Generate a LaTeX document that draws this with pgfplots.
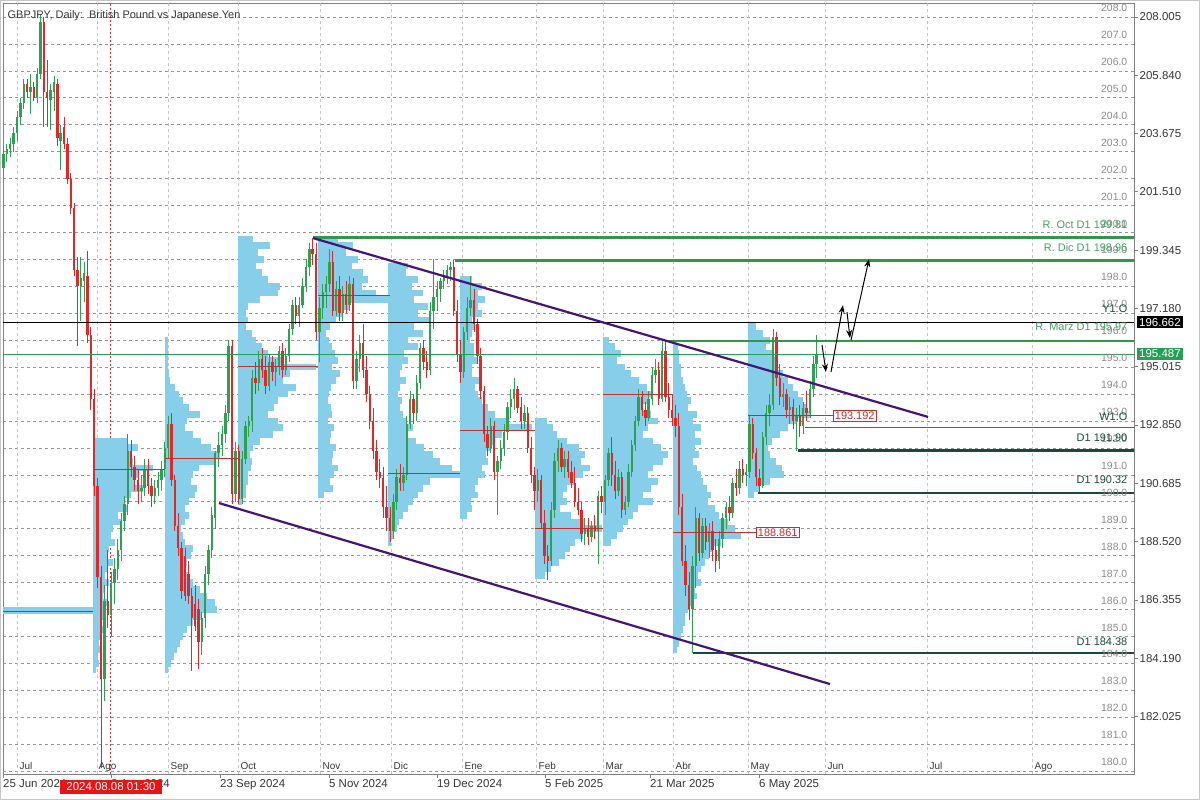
\documentclass[border=0pt]{standalone}
\usepackage{fontspec}
\setmainfont{Liberation Sans}
\usepackage{pgfplots}
\usepackage{pgfplotstable}
\pgfplotsset{compat=1.18}
\usetikzlibrary{arrows.meta}

\definecolor{cup}{RGB}{46,160,80}
\definecolor{cdn}{RGB}{225,40,40}
\definecolor{vp}{RGB}{135,206,235}
\definecolor{poc}{RGB}{200,45,45}
\definecolor{rgreen}{RGB}{50,150,75}
\definecolor{rtext}{RGB}{70,160,100}
\definecolor{dteal}{RGB}{30,72,62}
\definecolor{tpurple}{RGB}{70,20,120}
\definecolor{gridc}{RGB}{150,150,150}
\definecolor{vgridc}{RGB}{195,195,195}
\definecolor{lblgrey}{RGB}{140,140,140}
\definecolor{axtext}{RGB}{55,55,55}
\definecolor{boxgreen}{RGB}{38,160,85}
\definecolor{wteal}{RGB}{70,105,105}

% candles: index, open, high, low, close
\pgfplotstableread{
i o h l c
0 202.40 203.10 202.20 202.90
1 202.90 203.30 202.60 203.10
2 203.10 203.50 202.80 203.30
3 203.30 203.90 203.00 203.70
4 203.70 204.50 203.40 204.30
5 204.30 205.00 204.00 204.80
6 204.80 205.70 204.60 205.50
7 205.50 205.70 205.00 205.20
8 205.20 205.90 204.40 205.40
9 205.40 205.60 204.90 205.00
10 205.00 206.10 204.80 205.90
11 205.90 208.10 205.70 207.80
12 207.80 208.00 203.90 205.20
13 205.20 206.40 203.90 205.00
14 204.90 205.50 203.80 205.30
15 205.20 205.80 204.50 205.60
16 205.50 205.70 203.20 203.50
17 203.40 204.00 202.30 203.70
18 203.90 204.30 203.10 203.30
19 203.30 203.50 201.80 202.00
20 202.00 202.20 200.70 200.90
21 200.90 201.10 198.40 198.60
22 198.60 199.10 195.80 198.00
23 198.00 199.10 196.70 198.30
24 198.20 198.90 197.40 198.50
25 198.40 199.30 195.90 196.20
26 196.20 196.50 193.40 193.80
27 193.80 194.20 190.20 190.60
28 190.60 190.90 186.80 187.20
29 187.20 187.60 180.10 183.40
30 183.40 186.90 182.60 186.30
31 186.30 188.20 185.30 185.80
32 185.80 187.40 185.00 187.00
33 187.00 187.90 186.20 187.50
34 187.50 188.60 187.10 188.20
35 188.20 189.60 187.80 189.30
36 189.30 190.20 188.90 189.90
37 189.90 192.50 189.50 191.90
38 191.90 192.30 190.90 191.30
39 191.30 191.70 190.40 190.80
40 190.80 191.20 189.90 190.40
41 190.40 191.00 190.00 190.50
42 190.50 191.60 190.20 191.20
43 191.20 191.60 190.30 190.60
44 190.60 190.90 189.80 190.20
45 190.20 190.80 189.90 190.50
46 190.50 191.10 190.20 190.80
47 190.80 191.50 190.40 191.20
48 191.20 192.20 190.90 192.00
49 192.00 193.20 191.60 192.90
50 192.90 193.30 190.60 190.80
51 190.80 191.00 188.90 189.10
52 189.10 189.60 188.00 188.30
53 188.30 188.50 186.40 186.70
54 188.00 188.30 186.30 186.50
55 187.30 187.80 186.20 186.50
56 186.50 186.80 183.70 185.70
57 186.20 186.90 185.20 185.40
58 186.00 186.40 183.80 184.80
59 184.80 185.90 184.30 185.70
60 185.70 187.60 185.30 187.30
61 187.30 188.40 186.90 188.20
62 188.20 189.80 187.90 189.50
63 189.40 191.90 189.00 191.80
64 191.80 192.60 191.30 192.10
65 192.10 192.80 191.70 192.50
66 192.50 193.60 192.20 193.30
67 193.30 196.00 193.00 195.80
68 195.80 196.00 189.90 190.30
69 190.30 192.20 190.00 191.90
70 191.90 192.10 189.90 190.10
71 190.10 191.90 189.90 191.60
72 191.60 193.00 191.40 192.80
73 192.80 193.20 192.40 193.00
74 193.00 194.90 192.60 194.60
75 194.60 195.20 194.00 194.40
76 194.40 195.60 194.10 195.30
77 195.30 195.70 194.60 194.90
78 194.90 195.40 194.00 194.30
79 194.30 195.50 194.10 195.20
80 195.20 195.40 194.50 194.80
81 194.80 195.30 194.30 195.00
82 195.00 195.80 194.70 195.60
83 195.60 195.90 194.60 194.90
84 194.90 195.70 194.70 195.40
85 195.40 196.60 195.20 196.40
86 196.40 197.50 196.20 197.30
87 197.30 197.60 196.60 196.90
88 196.90 197.60 196.50 197.30
89 197.30 198.30 197.20 198.00
90 198.00 199.00 197.80 198.70
91 198.70 199.60 198.40 199.40
92 199.40 199.81 198.80 199.20
93 199.20 199.60 196.00 196.30
94 196.30 197.60 195.20 197.20
95 197.20 198.10 196.80 197.80
96 197.80 198.40 197.20 198.10
97 198.10 199.40 197.80 198.90
98 198.90 199.30 196.90 197.10
99 197.10 198.20 196.90 197.90
100 197.90 198.40 196.70 197.00
101 197.00 198.00 196.70 197.70
102 197.70 198.20 197.00 197.30
103 197.30 198.40 197.10 198.10
104 198.10 198.30 194.20 194.50
105 194.50 195.60 194.20 195.30
106 195.30 196.20 194.80 195.90
107 195.90 196.60 194.60 194.90
108 194.90 195.40 193.70 194.00
109 194.00 194.30 192.70 193.00
110 193.00 193.50 191.60 191.90
111 191.90 192.30 190.80 191.10
112 191.10 191.60 190.50 190.90
113 190.90 191.30 189.40 189.80
114 189.80 190.60 188.90 189.40
115 189.40 189.80 188.50 188.90
116 188.90 190.30 188.60 190.00
117 190.00 191.20 189.70 190.90
118 190.90 191.40 190.40 190.70
119 190.70 191.30 190.40 191.00
120 191.00 193.20 190.80 192.90
121 192.90 194.10 192.70 193.80
122 193.80 194.00 192.90 193.30
123 193.30 194.70 193.00 194.40
124 194.40 195.90 194.20 195.70
125 195.70 196.00 194.90 195.20
126 195.20 195.60 194.60 194.90
127 194.90 197.40 194.70 197.10
128 197.10 199.00 196.40 197.60
129 197.60 198.20 197.10 197.90
130 197.90 198.30 197.40 198.20
131 198.20 198.60 197.90 198.40
132 198.40 198.80 198.10 198.60
133 198.60 198.90 198.20 198.70
134 198.70 198.96 196.90 197.10
135 197.10 197.50 195.20 195.50
136 195.50 196.00 194.40 194.80
137 194.80 196.50 194.60 196.30
138 196.30 197.60 196.00 197.20
139 197.20 198.40 196.90 197.50
140 197.50 197.90 196.30 196.60
141 196.60 196.80 195.10 195.40
142 195.40 195.70 193.80 194.10
143 194.10 194.30 192.20 192.50
144 192.50 192.80 191.70 192.00
145 192.00 193.10 191.80 192.80
146 192.80 193.00 190.80 191.10
147 191.10 191.70 189.50 191.50
148 191.50 192.30 191.20 192.00
149 192.00 192.90 191.70 192.60
150 192.60 193.70 192.30 193.50
151 193.50 194.20 193.10 193.80
152 193.80 194.60 193.40 194.20
153 194.20 194.30 193.30 193.50
154 193.50 193.90 192.70 193.00
155 193.00 193.60 192.70 193.30
156 193.30 193.50 191.80 192.00
157 192.00 192.40 190.70 191.00
158 191.00 191.30 189.70 190.40
159 190.40 191.20 190.00 190.80
160 190.80 191.00 189.00 189.20
161 189.20 189.70 187.70 188.00
162 188.00 188.40 187.10 187.80
163 187.80 190.00 187.60 189.70
164 189.70 191.80 189.40 191.50
165 191.50 192.30 191.10 192.00
166 192.00 192.20 191.10 191.30
167 191.30 191.90 190.90 191.60
168 191.60 191.90 190.90 191.10
169 191.10 191.50 190.50 190.70
170 190.70 191.30 189.80 190.00
171 190.00 190.50 189.50 189.70
172 189.70 190.00 188.50 188.80
173 188.80 189.40 188.40 189.00
174 189.00 189.40 188.40 188.70
175 188.70 189.30 188.50 189.10
176 189.10 189.50 188.60 188.90
177 188.90 190.40 187.70 190.20
178 190.20 190.60 189.60 190.00
179 190.00 191.00 189.50 190.80
180 190.80 192.00 190.60 191.80
181 191.80 192.40 190.60 191.00
182 191.00 191.50 190.10 190.40
183 190.40 191.20 190.20 190.90
184 190.90 191.10 189.40 189.70
185 189.70 190.20 189.50 190.00
186 190.00 191.40 189.80 191.10
187 191.10 192.30 190.90 192.10
188 192.10 193.20 191.90 193.00
189 193.00 194.20 192.80 193.90
190 193.90 194.10 193.20 193.40
191 193.40 193.70 192.80 193.10
192 193.10 194.10 193.00 193.80
193 193.80 195.00 193.60 194.70
194 194.70 195.30 194.40 194.90
195 194.90 195.20 193.60 193.80
196 193.80 196.00 193.70 195.60
197 195.60 195.97 193.70 193.90
198 193.90 194.40 193.10 193.40
199 193.40 194.00 192.80 193.10
200 193.10 193.60 192.40 192.80
201 192.80 193.30 189.50 189.80
202 189.80 190.30 187.60 187.80
203 187.80 188.40 186.50 186.90
204 186.90 187.40 185.60 186.00
205 186.00 188.00 184.38 187.60
206 187.60 189.80 186.80 189.40
207 189.40 189.60 187.80 188.10
208 188.10 189.40 187.90 189.10
209 189.10 189.40 188.20 188.50
210 188.50 189.20 187.90 188.90
211 188.90 189.30 187.80 188.20
212 188.20 188.60 187.40 187.80
213 187.80 188.90 187.50 188.60
214 188.60 189.60 188.30 189.40
215 189.40 190.00 189.00 189.80
216 189.80 190.20 189.30 189.60
217 189.60 190.90 189.40 190.70
218 190.70 191.20 190.20 190.50
219 190.50 191.50 190.30 191.20
220 191.20 191.60 190.70 191.00
221 191.00 191.40 190.60 191.10
222 191.10 193.20 190.90 192.90
223 192.90 193.10 191.60 191.80
224 191.80 192.00 190.60 190.90
225 190.90 191.20 190.32 190.60
226 190.60 192.60 190.50 192.40
227 192.40 193.60 192.10 193.30
228 193.30 194.00 192.80 193.60
229 193.60 196.40 193.40 196.10
230 196.10 196.30 194.30 194.60
231 194.60 195.10 193.60 193.90
232 193.90 194.40 193.50 194.00
233 194.00 194.20 193.10 193.40
234 193.40 193.90 192.90 193.50
235 193.50 193.80 192.70 193.00
236 193.00 193.50 191.90 193.20
237 193.20 193.60 192.40 192.80
238 192.80 193.70 192.50 193.50
239 193.50 194.10 193.00 193.30
240 193.30 194.50 193.10 194.20
241 194.20 195.40 193.90 195.10
242 195.10 196.20 194.60 195.49
}\candles

% volume profiles: left edge (time position), price level, bar length
\pgfplotstableread{
x p w
3 185.95 90
93 192.25 35
93 192.00 45
93 191.75 38
93 191.50 40
93 191.25 60
93 191.00 45
93 190.75 42
93 190.50 50
93 190.25 38
93 190.00 32
93 189.75 35
93 189.50 25
93 189.25 28
93 189.00 20
93 188.75 18
93 188.50 22
93 188.25 16
93 188.00 15
93 187.75 20
93 187.50 14
93 187.25 12
93 187.00 16
93 186.75 12
93 186.50 10
93 186.25 14
93 186.00 10
93 185.75 12
93 185.50 8
93 185.25 10
93 185.00 8
93 184.75 6
93 184.50 9
93 184.25 5
93 184.00 6
93 183.75 3
165 196.00 3
165 195.75 3
165 195.50 3
165 195.25 3
165 195.00 3
165 194.75 4
165 194.50 5
165 194.25 10
165 194.00 14
165 193.75 18
165 193.50 24
165 193.25 35
165 193.00 22
165 192.75 20
165 192.50 28
165 192.25 36
165 192.00 46
165 191.75 55
165 191.50 50
165 191.25 34
165 191.00 28
165 190.75 26
165 190.50 32
165 190.25 30
165 190.00 24
165 189.75 20
165 189.50 24
165 189.25 20
165 189.00 16
165 188.75 18
165 188.50 20
165 188.25 28
165 188.00 26
165 187.75 22
165 187.50 20
165 187.25 24
165 187.00 28
165 186.75 35
165 186.50 42
165 186.25 50
165 186.00 52
165 185.75 36
165 185.50 28
165 185.25 22
165 185.00 18
165 184.75 15
165 184.50 12
165 184.25 9
165 184.00 6
165 183.75 3
238 199.75 15
238 199.50 32
238 199.25 20
238 199.00 26
238 198.75 18
238 198.50 24
238 198.25 30
238 198.00 42
238 197.75 40
238 197.50 22
238 197.25 10
238 197.00 8
238 196.75 10
238 196.50 8
238 196.25 14
238 196.00 18
238 195.75 24
238 195.50 30
238 195.25 45
238 195.00 78
238 194.75 52
238 194.50 45
238 194.25 58
238 194.00 50
238 193.75 40
238 193.50 36
238 193.25 30
238 193.00 40
238 192.75 45
238 192.50 35
238 192.25 22
238 192.00 15
238 191.75 12
238 191.50 14
238 191.25 13
238 191.00 10
238 190.75 10
238 190.50 8
238 190.25 8
238 190.00 4
318 199.75 20
318 199.50 35
318 199.25 28
318 199.00 40
318 198.75 34
318 198.50 45
318 198.25 50
318 198.00 44
318 197.75 58
318 197.50 72
318 197.25 32
318 197.00 24
318 196.75 18
318 196.50 12
318 196.25 8
318 196.00 11
318 195.75 14
318 195.50 17
318 195.25 20
318 195.00 14
318 194.75 22
318 194.50 18
318 194.25 13
318 194.00 11
318 193.75 10
318 193.50 13
318 193.25 14
318 193.00 10
318 192.75 16
318 192.50 13
318 192.25 12
318 192.00 18
318 191.75 15
318 191.50 14
318 191.25 20
318 191.00 16
318 190.75 12
318 190.50 15
318 190.25 6
388 198.75 20
388 198.50 18
388 198.25 30
388 198.00 24
388 197.75 35
388 197.50 26
388 197.25 40
388 197.00 30
388 196.75 42
388 196.50 26
388 196.25 35
388 196.00 20
388 195.75 30
388 195.50 16
388 195.25 20
388 195.00 14
388 194.75 12
388 194.50 18
388 194.25 12
388 194.00 10
388 193.75 14
388 193.50 12
388 193.25 15
388 193.00 18
388 192.75 25
388 192.50 20
388 192.25 28
388 192.00 36
388 191.75 45
388 191.50 52
388 191.25 64
388 191.00 72
388 190.75 42
388 190.50 35
388 190.25 30
388 190.00 25
388 189.75 20
388 189.50 15
388 189.25 11
388 189.00 9
388 188.75 6
388 188.50 3
460 198.25 12
460 198.00 22
460 197.75 18
460 197.50 25
460 197.25 18
460 197.00 22
460 196.75 12
460 196.50 15
460 196.25 12
460 196.00 10
460 195.75 14
460 195.50 14
460 195.25 18
460 195.00 12
460 194.75 12
460 194.50 20
460 194.25 15
460 194.00 18
460 193.75 22
460 193.50 28
460 193.25 35
460 193.00 48
460 192.75 72
460 192.50 42
460 192.25 35
460 192.00 30
460 191.75 26
460 191.50 28
460 191.25 22
460 191.00 25
460 190.75 18
460 190.50 15
460 190.25 18
460 190.00 11
460 189.75 12
460 189.50 7
535 193.00 12
535 192.75 18
535 192.50 22
535 192.25 32
535 192.00 44
535 191.75 50
535 191.50 46
535 191.25 55
535 191.00 48
535 190.75 40
535 190.50 32
535 190.25 28
535 190.00 32
535 189.75 25
535 189.50 36
535 189.25 50
535 189.00 67
535 188.75 48
535 188.50 40
535 188.25 35
535 188.00 30
535 187.75 24
535 187.50 16
535 187.25 10
603 196.00 6
603 195.75 12
603 195.50 18
603 195.25 14
603 195.00 22
603 194.75 28
603 194.50 36
603 194.25 44
603 194.00 50
603 193.75 45
603 193.50 40
603 193.25 48
603 193.00 55
603 192.75 45
603 192.50 40
603 192.25 50
603 192.00 58
603 191.75 65
603 191.50 60
603 191.25 50
603 191.00 45
603 190.75 55
603 190.50 48
603 190.25 40
603 190.00 50
603 189.75 35
603 189.50 30
603 189.25 25
603 189.00 20
603 188.75 14
603 188.50 8
673 195.75 5
673 195.50 6
673 195.25 6
673 195.00 8
673 194.75 8
673 194.50 10
673 194.25 12
673 194.00 14
673 193.75 18
673 193.50 15
673 193.25 24
673 193.00 20
673 192.75 28
673 192.50 22
673 192.25 28
673 192.00 22
673 191.75 26
673 191.50 20
673 191.25 24
673 191.00 28
673 190.75 30
673 190.50 34
673 190.25 38
673 190.00 35
673 189.75 42
673 189.50 46
673 189.25 55
673 189.00 62
673 188.75 68
673 188.50 48
673 188.25 40
673 188.00 36
673 187.75 32
673 187.50 28
673 187.25 25
673 187.00 28
673 186.75 22
673 186.50 24
673 186.25 18
673 186.00 15
673 185.75 12
673 185.50 12
673 185.25 10
673 185.00 8
673 184.75 6
673 184.50 4
748 196.50 8
748 196.25 15
748 196.00 22
748 195.75 18
748 195.50 25
748 195.25 30
748 195.00 28
748 194.75 35
748 194.50 40
748 194.25 45
748 194.00 50
748 193.75 55
748 193.50 58
748 193.25 62
748 193.00 48
748 192.75 40
748 192.50 32
748 192.25 24
748 192.00 20
748 191.75 22
748 191.50 28
748 191.25 34
748 191.00 36
748 190.75 22
748 190.50 12
748 190.25 6
}\profiles

% point of control of each profile: start, end, price
\pgfplotstableread{
x0 x1 p
3 93 185.94
93 165 191.18
165 238 191.62
238 318 195.04
318 390 197.64
388 460 191.03
460 535 192.66
535 603 189.02
603 673 194.00
673 756 188.861
748 833 193.192
}\pocs

\tikzset{
  lbl/.style={font=\fontsize{11}{13}\selectfont, inner sep=0.5bp},
  glbl/.style={font=\fontsize{10.5}{12}\selectfont, inner sep=0.5bp, text=lblgrey, anchor=base east},
}
\pgfplotsset{
  nomark/.style={only marks, mark=*, mark size=0pt, mark options={draw=none, fill=none}, forget plot},
}

\begin{document}
\begin{tikzpicture}
\useasboundingbox (0,0) rectangle (1200bp,800bp);
\fill[white] (0,0) rectangle (1200bp,800bp);
\draw[gray!45, line width=1bp] (0.5bp,0.5bp) rectangle (1199.5bp,799.5bp);
\begin{axis}[
  at={(3bp,26bp)}, anchor=south west,
  scale only axis, width=1131bp, height=771bp,
  xmin=3, xmax=1134, ymin=179.89, ymax=208.52,
  clip=false,
  axis line style={draw=gray, line width=0.8bp},
  ytick={182.025,184.19,186.355,188.52,190.685,192.85,195.015,197.18,199.345,201.51,203.675,205.84,208.005},
  yticklabel pos=right, ytick pos=right,
  yticklabel={\pgfmathprintnumber[fixed,fixed zerofill,precision=3,assume math mode=true]{\tick}},
  xtick={3,111,220,329,437,545,650,759},
  xticklabels={25 Jun 2024,8 Aug 2024,23 Sep 2024,5 Nov 2024,19 Dec 2024,5 Feb 2025,21 Mar 2025,6 May 2025},
  xtick pos=bottom,
  tick align=outside, major tick length=4bp,
  tick style={draw=gray, line width=0.6bp},
  yticklabel style={font=\fontsize{11.5}{13}\selectfont, text=axtext, inner sep=1.5bp},
  xticklabel style={font=\fontsize{11.5}{13}\selectfont, text=axtext, anchor=north west, inner sep=1bp, xshift=-1bp},
]
% horizontal dashed grid at whole prices
\pgfplotsinvokeforeach{180,...,208}{
  \draw[gridc, dash pattern=on 3bp off 3bp, line width=0.6bp] (axis cs:3,#1) -- (axis cs:1134,#1);
}
% vertical month separators
\pgfplotsinvokeforeach{17,97,168,238,320,391,462,536,603,673,748,825,927,1032}{
  \draw[vgridc, dash pattern=on 3bp off 3bp, line width=0.6bp] (axis cs:#1,179.89) -- (axis cs:#1,208.52);
}
% red dashed time cursor
\draw[cdn, dash pattern=on 2bp off 2bp, line width=0.8bp] (axis cs:110,179.89) -- (axis cs:110,208.52);

% volume profiles
\addplot[nomark,
  error bars/.cd, x dir=plus, x explicit, error mark=none,
  error bar style={line width=6.8bp, draw=vp}]
  table[x=x, y=p, x error=w] {\profiles};

% candle wicks and bodies
\addplot[nomark,
  error bars/.cd, y dir=both, y explicit, error mark=none,
  error bar style={line width=0.9bp, draw=cup}]
  table[x expr=3.56+3.36*\thisrow{i}, y expr=(\thisrow{h}+\thisrow{l})/2,
        y error expr=(\thisrow{h}-\thisrow{l})/2,
        restrict expr to domain={\thisrow{c}-\thisrow{o}}{0:100}] {\candles};
\addplot[nomark,
  error bars/.cd, y dir=both, y explicit, error mark=none,
  error bar style={line width=2.4bp, draw=cup}]
  table[x expr=3.56+3.36*\thisrow{i}, y expr=(\thisrow{o}+\thisrow{c})/2,
        y error expr={max(abs(\thisrow{c}-\thisrow{o})/2,0.03)},
        restrict expr to domain={\thisrow{c}-\thisrow{o}}{0:100}] {\candles};
\addplot[nomark,
  error bars/.cd, y dir=both, y explicit, error mark=none,
  error bar style={line width=0.9bp, draw=cdn}]
  table[x expr=3.56+3.36*\thisrow{i}, y expr=(\thisrow{h}+\thisrow{l})/2,
        y error expr=(\thisrow{h}-\thisrow{l})/2,
        restrict expr to domain={\thisrow{c}-\thisrow{o}}{-100:-0.001}] {\candles};
\addplot[nomark,
  error bars/.cd, y dir=both, y explicit, error mark=none,
  error bar style={line width=2.4bp, draw=cdn}]
  table[x expr=3.56+3.36*\thisrow{i}, y expr=(\thisrow{o}+\thisrow{c})/2,
        y error expr={abs(\thisrow{c}-\thisrow{o})/2},
        restrict expr to domain={\thisrow{c}-\thisrow{o}}{-100:-0.001}] {\candles};

% point of control lines
\addplot[nomark,
  error bars/.cd, x dir=plus, x explicit, error mark=none,
  error bar style={line width=1bp, draw=poc}]
  table[x=x0, y=p, x error expr=\thisrow{x1}-\thisrow{x0}] {\pocs};
\node[lbl, draw=poc, fill=white, text=poc, anchor=west, inner sep=1.5bp, line width=0.8bp] at (axis cs:756,188.861) {188.861};
\node[lbl, draw=poc, fill=white, text=poc, anchor=west, inner sep=1.5bp, line width=0.8bp] at (axis cs:833,193.192) {193.192};

% price lines
\addplot[black, line width=1.4bp, forget plot] coordinates {(3,196.662) (1134,196.662)};
\addplot[boxgreen, line width=0.8bp, forget plot] coordinates {(3,195.487) (1134,195.487)};

% resistance / support levels
\addplot[rgreen, line width=2.6bp, forget plot] coordinates {(313,199.81) (1134,199.81)};
\addplot[rgreen, line width=2.6bp, forget plot] coordinates {(455,198.96) (1134,198.96)};
\addplot[rgreen, line width=2.6bp, forget plot] coordinates {(665,195.97) (1134,195.97)};
\addplot[wteal, line width=1bp, forget plot] coordinates {(805,192.75) (1134,192.75)};
\addplot[dteal, line width=2.6bp, forget plot] coordinates {(798,191.90) (1134,191.90)};
\addplot[dteal, line width=2.6bp, forget plot] coordinates {(758,190.32) (1134,190.32)};
\addplot[dteal, line width=2.6bp, forget plot] coordinates {(693,184.38) (1134,184.38)};

% channel trend lines
\addplot[tpurple, line width=2.2bp, forget plot] coordinates {(313,199.79) (928,193.15)};
\addplot[tpurple, line width=2.2bp, forget plot] coordinates {(219,189.95) (830,183.23)};

% projection arrows
\draw[black, line width=1bp, -{Stealth[length=8bp,width=6bp]}] (axis cs:822,195.82) -- (axis cs:826,194.82);
\draw[black, line width=1bp, -{Stealth[length=8bp,width=6bp]}] (axis cs:831,194.82) -- (axis cs:843,197.30);
\draw[black, line width=1bp, -{Stealth[length=8bp,width=6bp]}] (axis cs:847,197.04) -- (axis cs:850,196.08);
\draw[black, line width=1bp, -{Stealth[length=8bp,width=6bp]}] (axis cs:851,196.00) -- (axis cs:869,199.01);

% grid labels
\pgfplotsinvokeforeach{180,...,208}{
  \node[glbl] at (axis cs:1128,#1.2) {#1.0};
}
% level labels
\node[lbl, text=rtext, anchor=base east] at (axis cs:1128,200.13) {R. Oct D1 199.81};
\node[lbl, text=rtext, anchor=base east] at (axis cs:1128,199.31) {R. Dic D1 198.96};
\node[lbl, text=rtext, anchor=base east] at (axis cs:1128,196.34) {R. Marz D1 195.97};
\node[lbl, text=dteal, anchor=base east] at (axis cs:1128,197.01) {Y1:O};
\node[lbl, text=dteal, anchor=base east] at (axis cs:1128,193.03) {W1:O};
\node[lbl, text=dteal, anchor=base east] at (axis cs:1128,192.22) {D1 191.90};
\node[lbl, text=dteal, anchor=base east] at (axis cs:1128,190.69) {D1 190.32};
\node[lbl, text=dteal, anchor=base east] at (axis cs:1128,184.68) {D1 184.38};

% right price boxes
\node[font=\fontsize{11.5}{13}\selectfont, fill=black, text=white, anchor=west, inner xsep=2bp, inner ysep=2bp] at (axis cs:1137,196.662) {196.662};
\node[font=\fontsize{11.5}{13}\selectfont, fill=boxgreen, text=white, anchor=west, inner xsep=2bp, inner ysep=2bp] at (axis cs:1137,195.487) {195.487};

% month labels inside the frame
\node[lbl, text=axtext, anchor=base west, font=\fontsize{10}{12}\selectfont] at (axis cs:19,180.06) {Jul};
\node[lbl, text=axtext, anchor=base west, font=\fontsize{10}{12}\selectfont] at (axis cs:98,180.06) {Ago};
\node[lbl, text=axtext, anchor=base west, font=\fontsize{10}{12}\selectfont] at (axis cs:170,180.06) {Sep};
\node[lbl, text=axtext, anchor=base west, font=\fontsize{10}{12}\selectfont] at (axis cs:240,180.06) {Oct};
\node[lbl, text=axtext, anchor=base west, font=\fontsize{10}{12}\selectfont] at (axis cs:322,180.06) {Nov};
\node[lbl, text=axtext, anchor=base west, font=\fontsize{10}{12}\selectfont] at (axis cs:393,180.06) {Dic};
\node[lbl, text=axtext, anchor=base west, font=\fontsize{10}{12}\selectfont] at (axis cs:464,180.06) {Ene};
\node[lbl, text=axtext, anchor=base west, font=\fontsize{10}{12}\selectfont] at (axis cs:538,180.06) {Feb};
\node[lbl, text=axtext, anchor=base west, font=\fontsize{10}{12}\selectfont] at (axis cs:605,180.06) {Mar};
\node[lbl, text=axtext, anchor=base west, font=\fontsize{10}{12}\selectfont] at (axis cs:675,180.06) {Abr};
\node[lbl, text=axtext, anchor=base west, font=\fontsize{10}{12}\selectfont] at (axis cs:750,180.06) {May};
\node[lbl, text=axtext, anchor=base west, font=\fontsize{10}{12}\selectfont] at (axis cs:827,180.06) {Jun};
\node[lbl, text=axtext, anchor=base west, font=\fontsize{10}{12}\selectfont] at (axis cs:929,180.06) {Jul};
\node[lbl, text=axtext, anchor=base west, font=\fontsize{10}{12}\selectfont] at (axis cs:1034,180.06) {Ago};

% title
\node[lbl, text=axtext, anchor=base west] at (axis cs:7,207.96) {GBPJPY, Daily:\ \ British Pound vs Japanese Yen};

% time cursor label
\node[font=\fontsize{11.5}{13}\selectfont, fill={rgb,255:red,235;green,20;blue,20}, text=white, inner xsep=6bp, inner ysep=3bp] at (axis cs:111,179.41) {2024.08.08 01:30};
\end{axis}
\end{tikzpicture}
\end{document}
